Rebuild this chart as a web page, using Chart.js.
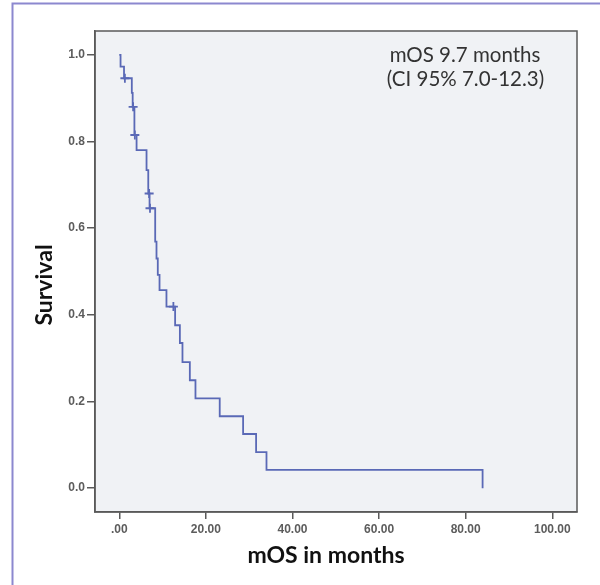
<!DOCTYPE html>
<html>
<head>
<meta charset="utf-8">
<script src="https://cdn.jsdelivr.net/npm/chart.js@4.4.1/dist/chart.umd.min.js"></script>
<style>
  html, body { margin: 0; padding: 0; background: #ffffff; }
  #wrap { width: 600px; height: 585px; position: relative; }
</style>
</head>
<body>
<div id="wrap"><canvas id="c" width="600" height="585"></canvas></div>
<script>
// ---- Data ----
const eventTimes = [0, 0.3, 1.1, 2.9, 3.1, 3.5, 4.0, 6.3, 6.7, 7.0, 8.3, 8.6, 8.9, 9.3, 10.9, 12.9, 14.0, 14.6, 16.3, 17.6, 23.2, 28.6, 31.6, 34.0, 83.9];
const survival   = [1.0, 0.973, 0.946, 0.912, 0.880, 0.815, 0.780, 0.734, 0.680, 0.646, 0.569, 0.530, 0.492, 0.457, 0.419, 0.376, 0.335, 0.291, 0.249, 0.207, 0.166, 0.125, 0.083, 0.042, 0.0];
const censorTimes = [1.3, 3.2, 3.6, 6.9, 7.1, 12.5];
const censorSurv  = [0.946, 0.880, 0.815, 0.680, 0.646, 0.419];
const xTickValues = [0, 20, 40, 60, 80, 100];
const xTickLabels = ['.00', '20.00', '40.00', '60.00', '80.00', '100.00'];
const yTickValues = [0, 0.2, 0.4, 0.6, 0.8, 1.0];
const yTickLabels = ['0.0', '0.2', '0.4', '0.6', '0.8', '1.0'];
const xTitle = 'mOS in months';
const yTitle = 'Survival';
const noteLines = ['mOS 9.7 months', '(CI 95% 7.0-12.3)'];

const curveColor = '#5a69b6';
const axisColor = '#5a5a5a';

const kmPoints = eventTimes.map((t, i) => ({ x: t, y: survival[i] }));
const censorPoints = censorTimes.map((t, i) => ({ x: t, y: censorSurv[i] }));

const decorPlugin = {
  id: 'decor',
  beforeDraw(chart) {
    const ctx = chart.ctx;
    const a = chart.chartArea;
    ctx.save();
    ctx.fillStyle = '#ffffff';
    ctx.fillRect(0, 0, chart.width, chart.height);
    // outer purple frame
    ctx.strokeStyle = '#8c88cf';
    ctx.lineWidth = 2;
    ctx.beginPath();
    ctx.moveTo(12.5, chart.height);
    ctx.lineTo(12.5, 3.5);
    ctx.lineTo(chart.width, 3.5);
    ctx.stroke();
    // plot background
    ctx.fillStyle = '#f0f2f5';
    ctx.fillRect(a.left, a.top, a.right - a.left, a.bottom - a.top);
    ctx.restore();
  },
  afterDraw(chart) {
    const ctx = chart.ctx;
    const a = chart.chartArea;
    ctx.save();
    // plot box
    ctx.strokeStyle = axisColor;
    ctx.lineWidth = 1.5;
    ctx.strokeRect(a.left, a.top, a.right - a.left, a.bottom - a.top);
    // axis titles
    ctx.fillStyle = '#111111';
    ctx.font = 'bold 23px Lato, "Open Sans", sans-serif';
    ctx.textAlign = 'center';
    ctx.textBaseline = 'middle';
    ctx.fillText(xTitle, 326, 556);
    ctx.save();
    ctx.translate(45, 285);
    ctx.rotate(-Math.PI / 2);
    ctx.fillText(yTitle, 0, 0);
    ctx.restore();
    // annotation
    ctx.fillStyle = '#333333';
    ctx.font = '20.5px Lato, "Open Sans", sans-serif';
    ctx.fillText(noteLines[0], 465, 55);
    ctx.fillText(noteLines[1], 465.5, 79);
    ctx.restore();
  }
};

new Chart(document.getElementById('c'), {
  type: 'scatter',
  data: {
    datasets: [
      {
        label: 'KM',
        data: kmPoints,
        showLine: true,
        stepped: 'before',
        borderColor: curveColor,
        borderWidth: 1.8,
        pointRadius: 0,
        fill: false
      },
      {
        label: 'Censored',
        data: censorPoints,
        showLine: false,
        pointStyle: 'cross',
        pointRadius: 4.5,
        borderColor: curveColor,
        backgroundColor: curveColor,
        borderWidth: 1.8
      }
    ]
  },
  options: {
    responsive: false,
    animation: false,
    layout: { padding: { top: 31, right: 23, left: 0, bottom: 0 } },
    plugins: { legend: { display: false }, tooltip: { enabled: false } },
    scales: {
      x: {
        type: 'linear',
        min: -5.6,
        max: 105.7,
        afterFit(s) { s.height = 73; },
        afterBuildTicks(s) { s.ticks = xTickValues.map(v => ({ value: v })); },
        grid: { drawOnChartArea: false, drawTicks: true, tickLength: 7, color: axisColor, lineWidth: 1.5 },
        border: { display: true, color: axisColor, width: 1.5 },
        ticks: {
          padding: 3,
          color: '#5c5c5c',
          font: { family: '"Liberation Sans", Arial, sans-serif', size: 12, weight: 'bold' },
          maxRotation: 0,
          autoSkip: false,
          callback(v, i) { return xTickLabels[i]; }
        }
      },
      y: {
        type: 'linear',
        min: -0.055,
        max: 1.055,
        afterFit(s) { s.width = 95; },
        afterBuildTicks(s) { s.ticks = yTickValues.map(v => ({ value: v })); },
        grid: { drawOnChartArea: false, drawTicks: true, tickLength: 8, color: axisColor, lineWidth: 1.5 },
        border: { display: true, color: axisColor, width: 1.5 },
        ticks: {
          padding: 2,
          color: '#5c5c5c',
          font: { family: '"Liberation Sans", Arial, sans-serif', size: 12, weight: 'bold' },
          autoSkip: false,
          callback(v, i) { return yTickLabels[i]; }
        }
      }
    }
  },
  plugins: [decorPlugin]
});
</script>
</body>
</html>
